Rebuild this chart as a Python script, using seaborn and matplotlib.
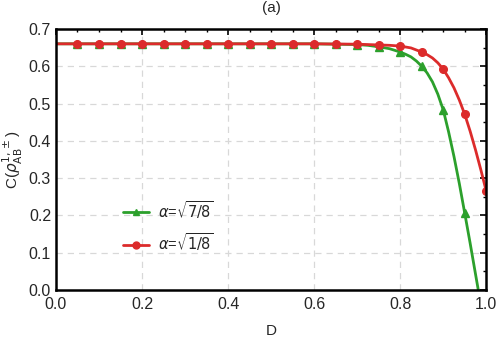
import pandas as pd
import seaborn as sns
import matplotlib.pyplot as plt
from matplotlib.lines import Line2D
from matplotlib.ticker import MultipleLocator

# marker values
d_marks = [0.05, 0.1, 0.15, 0.2, 0.25, 0.3, 0.35, 0.4, 0.45, 0.5,
           0.55, 0.6, 0.65, 0.7, 0.75, 0.8, 0.85, 0.9, 0.95, 1.0]
green_marks = [0.66, 0.66, 0.66, 0.66, 0.66, 0.66, 0.66, 0.66, 0.66, 0.66,
               0.66, 0.66, 0.66, 0.658, 0.652, 0.638, 0.600, 0.483, 0.206, None]
red_marks = [0.66, 0.66, 0.66, 0.66, 0.66, 0.66, 0.66, 0.66, 0.66, 0.66,
             0.66, 0.66, 0.66, 0.659, 0.657, 0.654, 0.638, 0.592, 0.471, 0.265]

# smooth curves, sampled by eye
d_green = [0.0, 0.6, 0.7, 0.725, 0.75, 0.775, 0.8, 0.8125, 0.825, 0.8375, 0.85, 0.8625,
           0.875, 0.8875, 0.9, 0.9125, 0.925, 0.9375, 0.95, 0.9625, 0.975, 0.9815, 1.0]
c_green = [0.66, 0.66, 0.658, 0.656, 0.652, 0.647, 0.638, 0.632, 0.625, 0.614, 0.600, 0.582,
           0.558, 0.525, 0.483, 0.424, 0.358, 0.285, 0.206, 0.126, 0.043, 0.0, -0.12]
d_red = [0.0, 0.6, 0.7, 0.75, 0.775, 0.8, 0.825, 0.85, 0.8625, 0.875, 0.8875, 0.9,
         0.9125, 0.925, 0.9375, 0.95, 0.9625, 0.975, 0.9875, 1.0]
c_red = [0.66, 0.66, 0.659, 0.657, 0.656, 0.654, 0.649, 0.638, 0.631, 0.622, 0.609, 0.592,
         0.569, 0.542, 0.509, 0.471, 0.426, 0.376, 0.322, 0.265]

green = '#2ca02c'
red = '#dc2b2b'

sns.set_style('white')
plt.rcParams['font.family'] = ['Liberation Sans', 'DejaVu Sans']
plt.rcParams['mathtext.fontset'] = 'dejavusans'

fig = plt.figure(figsize=(4.98, 3.40), dpi=100)
ax = fig.add_axes([0.1124, 0.147, 0.864, 0.768])

sns.lineplot(x=d_green, y=c_green, color=green, linewidth=2, ax=ax, sort=False)
sns.lineplot(x=d_red, y=c_red, color=red, linewidth=2, ax=ax, sort=False)

marks = pd.DataFrame({'D': d_marks, 'g': green_marks, 'r': red_marks})
gm = marks.dropna(subset=['g'])
ax.plot(gm['D'], gm['g'], linestyle='none', marker='^', markersize=5.5, color=green)
ax.plot(marks['D'], marks['r'], linestyle='none', marker='o', markersize=5.5, color=red)

ax.set_xlim(0, 1)
ax.set_ylim(0, 0.7)
ax.xaxis.set_major_locator(MultipleLocator(0.2))
ax.xaxis.set_minor_locator(MultipleLocator(0.05))
ax.yaxis.set_major_locator(MultipleLocator(0.1))
ax.yaxis.set_minor_locator(MultipleLocator(0.05))
ax.tick_params(which='both', direction='in', top=True, right=True, labelsize=11.5, color='black')
ax.tick_params(which='major', length=4, width=1.2)
ax.tick_params(which='minor', length=2.5, width=1)
ax.tick_params(axis='x', pad=5)
ax.xaxis.set_major_formatter(plt.FuncFormatter(lambda v, p: f'{v:.1f}'))
ax.yaxis.set_major_formatter(plt.FuncFormatter(lambda v, p: f'{v:.1f}'))
ax.grid(True, which='major', linestyle=(0, (5, 4)), color='#d8d8d8', linewidth=0.9)
for s in ax.spines.values():
    s.set_color('black')
    s.set_linewidth(1.8)

ax.set_xlabel('D', fontsize=11, labelpad=9)
ax.set_ylabel(r'C($\rho_{\mathrm{AB}}^{1,\pm}$)', fontsize=11, labelpad=3)
ax.set_title('(a)', fontsize=11, pad=12)

handles = [Line2D([], [], color=green, linewidth=2, marker='^', markersize=5),
           Line2D([], [], color=red, linewidth=2, marker='o', markersize=5)]
labels = [r'$\alpha$=$\sqrt{7/8}$', r'$\alpha$=$\sqrt{1/8}$']
ax.legend(handles, labels, loc='center left', bbox_to_anchor=(0.125, 0.245), frameon=False,
          fontsize=10.5, handlelength=1.8, handletextpad=0.6, labelspacing=0.75)

fig.savefig('out.png', dpi=100)
